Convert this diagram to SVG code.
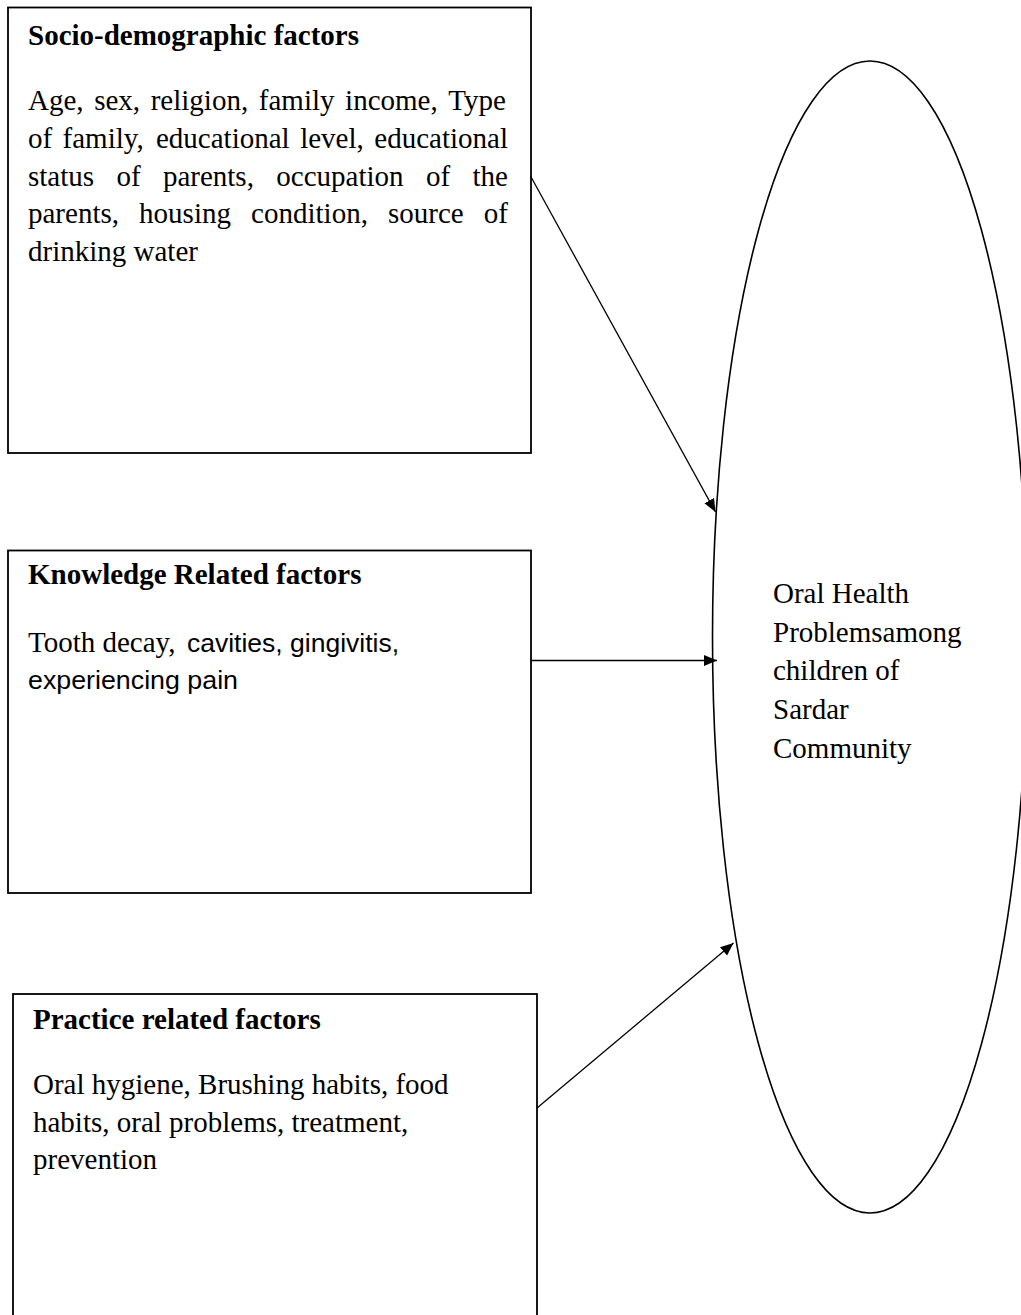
<svg xmlns="http://www.w3.org/2000/svg" width="1021" height="1315" viewBox="0 0 1021 1315">
  <style>
    .box { fill: #ffffff; stroke: #000000; stroke-width: 1.8; }
    .oval { fill: none; stroke: #000000; stroke-width: 1.6; }
    .conn { fill: none; stroke: #000000; stroke-width: 1.3; marker-end: url(#arrow); }
    .hd { font-family: "Liberation Serif", "Times New Roman", serif; font-weight: bold; font-size: 29px; fill: #000; }
    .tx { font-family: "Liberation Serif", "Times New Roman", serif; font-size: 29px; fill: #000; }
    .sans { font-family: "Liberation Sans", Arial, sans-serif; font-size: 26.5px; fill: #000; }
  </style>
  <defs>
    <marker id="arrow" markerUnits="userSpaceOnUse" markerWidth="14" markerHeight="12" refX="13" refY="5.5" orient="auto">
      <path d="M0,0 L13,5.5 L0,11 z" fill="#000000"/>
    </marker>
  </defs>
  <rect width="1021" height="1315" fill="#ffffff"/>

  <g id="node-socio">
    <rect class="box" x="8" y="7.5" width="523" height="445.5"/>
    <text class="hd" x="28" y="45">Socio-demographic factors</text>
    <text class="tx" y="110"><tspan x="28">Age,</tspan><tspan x="94.2">sex,</tspan><tspan x="150.7">religion,</tspan><tspan x="258.8">family</tspan><tspan x="345.1">income,</tspan><tspan x="448.3">Type</tspan></text>
    <text class="tx" y="148"><tspan x="28">of</tspan><tspan x="62.6">family,</tspan><tspan x="156">educational</tspan><tspan x="300.2">level,</tspan><tspan x="374.3">educational</tspan></text>
    <text class="tx" y="185.5"><tspan x="28">status</tspan><tspan x="116.4">of</tspan><tspan x="162.9">parents,</tspan><tspan x="276.3">occupation</tspan><tspan x="425.9">of</tspan><tspan x="472.4">the</tspan></text>
    <text class="tx" y="223"><tspan x="28">parents,</tspan><tspan x="139.1">housing</tspan><tspan x="251.1">condition,</tspan><tspan x="388">source</tspan><tspan x="483.8">of</tspan></text>
    <text class="tx" x="28" y="260.5">drinking water</text>
  </g>

  <g id="node-knowledge">
    <rect class="box" x="8" y="550.5" width="523" height="342.5"/>
    <text class="hd" x="28" y="584">Knowledge Related factors</text>
    <text class="tx" x="28" y="652">Tooth decay, </text>
    <text class="sans" x="187" y="652" textLength="212" lengthAdjust="spacingAndGlyphs">cavities, gingivitis,</text>
    <text class="sans" x="28" y="689" textLength="210" lengthAdjust="spacingAndGlyphs">experiencing pain</text>
  </g>

  <g id="node-practice">
    <rect class="box" x="13" y="994" width="524" height="330"/>
    <text class="hd" x="33" y="1029">Practice related factors</text>
    <text class="tx" x="33" y="1094">Oral hygiene, Brushing habits, food</text>
    <text class="tx" x="33" y="1132">habits, oral problems, treatment,</text>
    <text class="tx" x="33" y="1169">prevention</text>
  </g>

  <g id="node-outcome">
    <ellipse class="oval" cx="870" cy="637" rx="157.5" ry="576"/>
    <text class="tx" x="773" y="603">Oral Health</text>
    <text class="tx" x="773" y="642">Problemsamong</text>
    <text class="tx" x="773" y="680">children of</text>
    <text class="tx" x="773" y="719">Sardar</text>
    <text class="tx" x="773" y="758">Community</text>
  </g>

  <g id="connectors">
    <line class="conn" x1="530.5" y1="176" x2="715.5" y2="512"/>
    <line class="conn" x1="531" y1="660.5" x2="717" y2="660.5"/>
    <line class="conn" x1="537" y1="1108" x2="733.5" y2="943"/>
  </g>
</svg>
